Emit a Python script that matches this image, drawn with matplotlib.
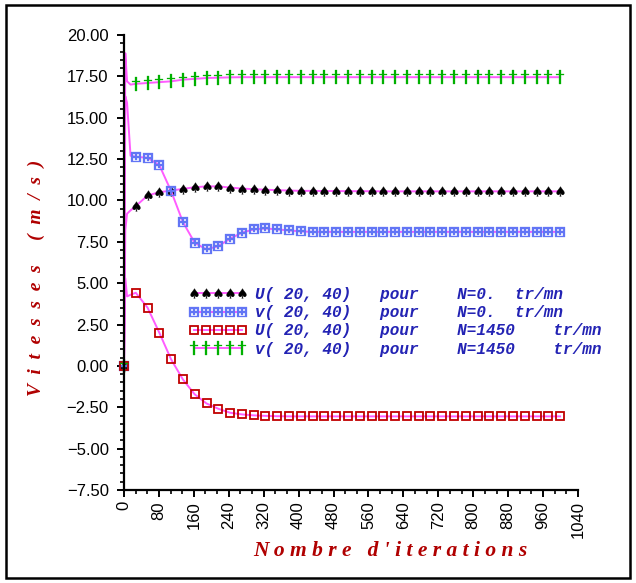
import matplotlib
matplotlib.use("Agg")
import matplotlib.pyplot as plt
from matplotlib.ticker import MultipleLocator, AutoMinorLocator, FuncFormatter
from matplotlib.patches import Rectangle

# Iteration numbers at which the velocities were recorded
iterations = [0, 3, 7, 15,
              27, 54, 81, 108, 135, 162, 189, 216, 243, 270,
              297, 324, 351, 378, 405, 432, 459, 486, 513, 540,
              567, 594, 621, 648, 675, 702, 729, 756, 783, 810,
              837, 864, 891, 918, 945, 972, 999]

# U(20,40) for N = 0 tr/mn
U_N0 = [0.0, 8.2, 9.2, 9.4,
        9.66, 10.30, 10.50, 10.60, 10.70, 10.80, 10.85, 10.85, 10.78, 10.72,
        10.68, 10.65, 10.62, 10.60, 10.58, 10.58, 10.57, 10.57, 10.56, 10.56,
        10.56, 10.55, 10.55, 10.55, 10.55, 10.55, 10.55, 10.55, 10.55, 10.55,
        10.55, 10.55, 10.55, 10.55, 10.55, 10.55, 10.55]

# v(20,40) for N = 0 tr/mn
v_N0 = [0.0, 16.3, 15.9, 12.7,
        12.64, 12.58, 12.13, 10.56, 8.69, 7.44, 7.04, 7.24, 7.69, 8.05,
        8.25, 8.31, 8.25, 8.19, 8.13, 8.10, 8.10, 8.10, 8.10, 8.10,
        8.10, 8.10, 8.10, 8.10, 8.10, 8.10, 8.10, 8.10, 8.10, 8.10,
        8.10, 8.10, 8.10, 8.10, 8.10, 8.10, 8.10]

# U(20,40) for N = 1450 tr/mn
U_N1450 = [0.0, 5.3, 4.2, 4.3,
           4.42, 3.52, 2.00, 0.39, -0.82, -1.72, -2.27, -2.59, -2.83, -2.93,
           -2.99, -3.02, -3.04, -3.05, -3.05, -3.05, -3.05, -3.05, -3.05, -3.05,
           -3.05, -3.05, -3.05, -3.05, -3.05, -3.05, -3.05, -3.05, -3.05, -3.05,
           -3.05, -3.05, -3.05, -3.05, -3.05, -3.05, -3.05]

# v(20,40) for N = 1450 tr/mn
v_N1450 = [0.0, 18.9, 17.2, 17.0,
           17.05, 17.10, 17.15, 17.20, 17.30, 17.35, 17.40, 17.42, 17.44, 17.45,
           17.45, 17.45, 17.45, 17.45, 17.45, 17.45, 17.45, 17.45, 17.45, 17.45,
           17.45, 17.45, 17.45, 17.45, 17.45, 17.45, 17.45, 17.45, 17.45, 17.45,
           17.45, 17.45, 17.45, 17.45, 17.45, 17.45, 17.45]

labels = ["U( 20, 40)   pour    N=0.  tr/mn",
          "v( 20, 40)   pour    N=0.  tr/mn",
          "U( 20, 40)   pour    N=1450    tr/mn",
          "v( 20, 40)   pour    N=1450    tr/mn"]

line_color = "#ff5cff"
marked = [0] + list(range(4, len(iterations)))

fig = plt.figure(figsize=(6.36, 5.83), dpi=100)
fig.patch.set_facecolor("white")
fig.add_artist(Rectangle((0.009, 0.008), 0.981, 0.983, transform=fig.transFigure,
                         fill=False, edgecolor="black", linewidth=1.8))

ax = fig.add_axes([124 / 636, 93 / 583, 454 / 636, 455 / 583])

styles = [
    dict(marker=r"$\spadesuit$", color="black", ms=7),
    dict(marker=r"$\boxplus$", color="#6275f5", ms=6.5),
    dict(marker="s", color="#c00000", ms=6, fill=False),
    dict(marker=r"$\dagger$", color="#00b000", ms=10),
]
series = [U_N0, v_N0, U_N1450, v_N1450]

handles = []
for vals, st, lab in zip(series, styles, labels):
    kw = dict(color=line_color, lw=1.4, marker=st["marker"], ms=st["ms"],
              markeredgecolor=st["color"], markevery=marked, label=lab,
              clip_on=False)
    if st.get("fill") is False:
        kw.update(markerfacecolor="none", markeredgewidth=1.3)
    else:
        kw.update(markerfacecolor=st["color"], markeredgewidth=0.2)
    h, = ax.plot(iterations, vals, **kw)
    handles.append(h)

ax.set_xlim(0, 1040)
ax.set_ylim(-7.5, 20)
ax.xaxis.set_major_locator(MultipleLocator(80))
ax.xaxis.set_minor_locator(AutoMinorLocator(3))
ax.yaxis.set_major_locator(MultipleLocator(2.5))
ax.yaxis.set_minor_locator(AutoMinorLocator(5))
ax.yaxis.set_major_formatter(FuncFormatter(lambda v, p: f"{v:.2f}".replace("-", "\u2212")))

for side in ("top", "right"):
    ax.spines[side].set_visible(False)
for side in ("left", "bottom"):
    ax.spines[side].set_linewidth(1.6)

ax.tick_params(axis="both", which="major", direction="out", length=5, width=1.4,
               labelsize=12)
ax.tick_params(axis="both", which="minor", direction="out", length=3, width=1.2)
ax.tick_params(axis="y", which="major", pad=6)
ax.tick_params(axis="x", which="major", pad=3)
for lbl in ax.get_yticklabels() + ax.get_xticklabels():
    lbl.set_family("Liberation Sans")
for lbl in ax.get_xticklabels():
    lbl.set_rotation(90)

label_color = "#b00000"
fig.text(390 / 636, 1 - 551 / 583, "N o m b r e   d ' i t e r a t i o n s",
         ha="center", va="center", color=label_color, fontsize=15.5,
         family="Liberation Serif", fontweight="bold", style="italic")
fig.text(36 / 636, 1 - 278 / 583, "V  i  t  e  s  s  e  s     (  m  /  s  )",
         ha="center", va="center", rotation=90, color=label_color, fontsize=14,
         family="Liberation Serif", fontweight="bold", style="italic")

leg = ax.legend(handles=handles, loc="upper left",
                bbox_to_anchor=(189 / 636, 1 - 287 / 583),
                bbox_transform=fig.transFigure, frameon=False, numpoints=5,
                handlelength=3.6, handletextpad=0.55, labelspacing=0.2,
                borderpad=0, borderaxespad=0,
                prop=dict(family="Liberation Mono", weight="bold",
                          style="italic", size=11.5))
for t in leg.get_texts():
    t.set_color("#2323b4")

fig.savefig("out.png", dpi=100, facecolor="white")
